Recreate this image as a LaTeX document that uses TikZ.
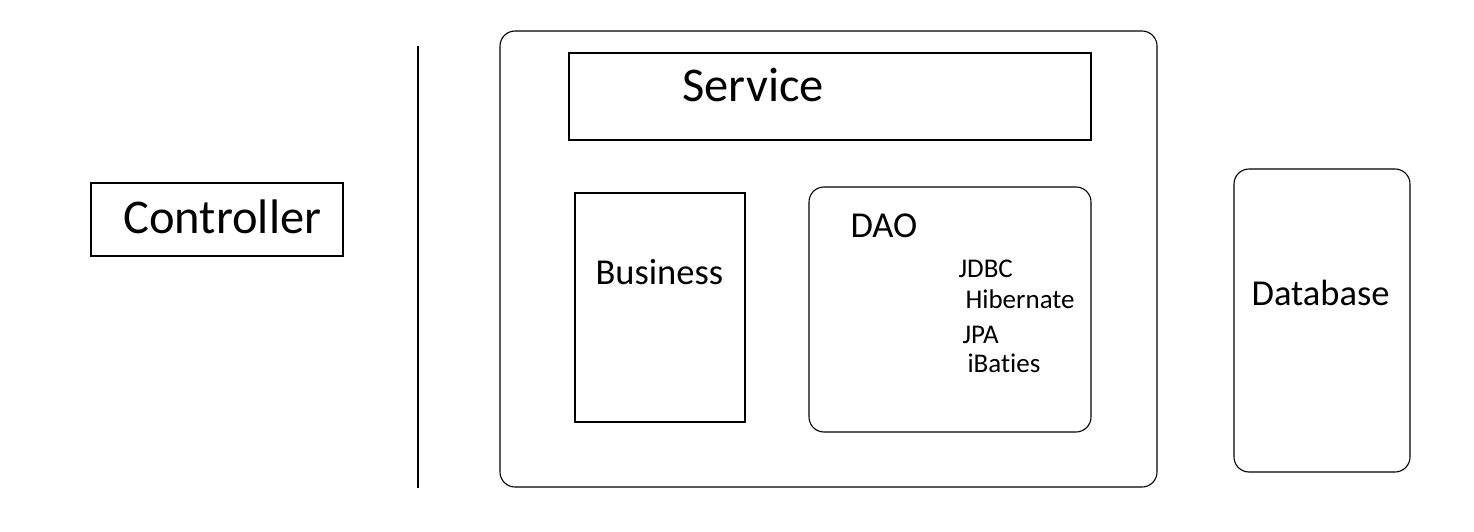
\documentclass[tikz,border=0pt]{standalone}
\usepackage{fontspec}
\setmainfont[Ligatures=NoCommon]{Carlito}
\tikzset{
  box/.style={draw, line width=1.1pt, inner sep=0pt},
  roundbox/.style={box, rounded corners=15},
  lbl/.style={anchor=base west, inner sep=0pt},
  bigtxt/.style={lbl, font=\fontsize{48.5}{50}\selectfont},
  midtxt/.style={lbl, font=\fontsize{36.5}{38}\selectfont},
  smalltxt/.style={lbl, font=\fontsize{27}{30}\selectfont}
}
\begin{document}
\begin{tikzpicture}[x=1pt, y=-1pt, line width=1.1pt]
    \useasboundingbox (0,0) rectangle (1474,532);
    % left side
    \node (ctrl) [box, minimum width=252, minimum height=73] at (217,219.5) {};
    \node (ctrltxt) [bigtxt] at (123,233) {Controller};
    \coordinate (sepTop) at (418,46);
    \coordinate (sepBot) at (418,488);
    \draw (sepTop) -- (sepBot);

    % service layer
    \node (svc) [roundbox, minimum width=657, minimum height=456] at (828.5,259) {};
    \node (svchead) [box, minimum width=522, minimum height=87] at (830,96.5) {};
    \node (svctxt) [bigtxt] at (682,102) {Service};
    \node (biz) [box, minimum width=170, minimum height=229] at (660,307.5) {};
    \node (biztxt) [midtxt] at (595,284) {Business};
    \node (dao) [roundbox, minimum width=282, minimum height=245] at (950,309.5) {};
    \node (daotxt) [midtxt] at (850,237) {DAO};
    \node (jdbc) [smalltxt] at (958,277) {JDBC};
    \node (hib) [smalltxt] at (965,308) {Hibernate};
    \node (jpa) [smalltxt] at (962,343) {JPA};
    \node (ibat) [smalltxt] at (967,372) {iBaties};

    % storage
    \node (db) [roundbox, minimum width=176, minimum height=303] at (1322,320.5) {};
    \node (dbtxt) [midtxt] at (1251,305) {Database};
\end{tikzpicture}
\end{document}
